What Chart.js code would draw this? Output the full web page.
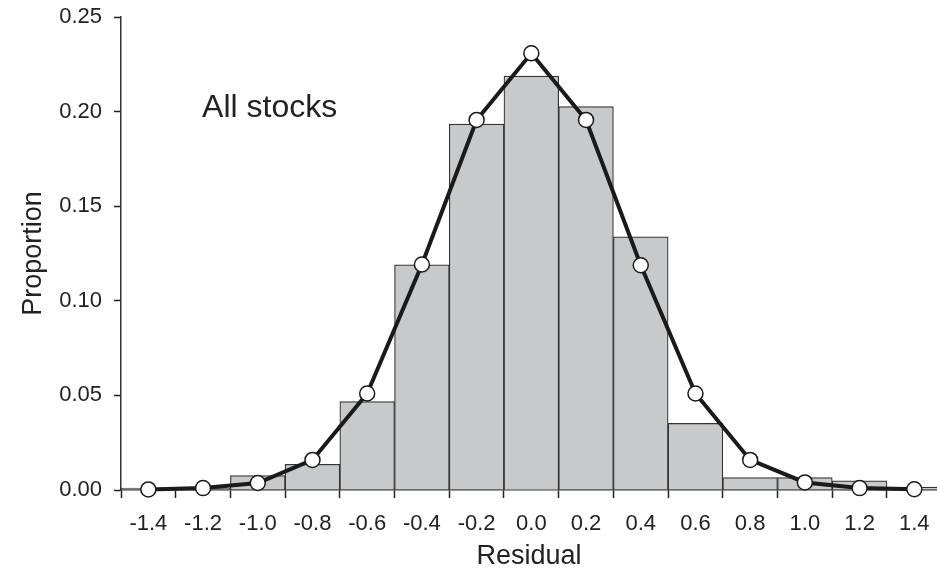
<!DOCTYPE html>
<html>
<head>
<meta charset="utf-8">
<script src="https://cdn.jsdelivr.net/npm/chart.js@4.4.1/dist/chart.umd.min.js"></script>
<style>
  html, body { margin: 0; padding: 0; background: #fff; overflow: hidden; }
  #wrap { width: 937px; height: 570px; }
</style>
</head>
<body>
<div id="wrap"><canvas id="chart"></canvas></div>
<script>
// bin centres of the residual histogram
const binCenters = [-1.4, -1.2, -1.0, -0.8, -0.6, -0.4, -0.2, 0.0, 0.2, 0.4, 0.6, 0.8, 1.0, 1.2, 1.4];
// observed proportion in each bin (bars)
const observed = [0.001, 0.001, 0.0076, 0.0136, 0.0467, 0.119, 0.1934, 0.2188, 0.2026, 0.1338, 0.0352, 0.0065, 0.0065, 0.0048, 0.0015];
// fitted proportion in each bin (line with open circles)
const fitted = [0.0003, 0.001, 0.0037, 0.0159, 0.051, 0.1192, 0.1956, 0.2308, 0.1956, 0.1188, 0.051, 0.0159, 0.0040, 0.001, 0.0004];
const xTicks = binCenters;
const yTicks = [0, 0.05, 0.10, 0.15, 0.20, 0.25];

const ink = '#222';
const font = 'Liberation Sans, Arial, Helvetica, sans-serif';

const panelLabel = {
  id: 'panelLabel',
  afterDraw(chart) {
    const {ctx, scales: {x, y}} = chart;
    ctx.save();
    ctx.font = '32px ' + font;
    ctx.fillStyle = ink;
    ctx.textBaseline = 'alphabetic';
    ctx.fillText('All stocks', x.getPixelForValue(-1.2035), y.getPixelForValue(0.197));
    ctx.restore();
  }
};

new Chart(document.getElementById('chart'), {
  type: 'bar',
  data: {
    datasets: [
      {
        type: 'line',
        label: 'Fitted',
        data: binCenters.map((v, i) => ({x: v, y: fitted[i]})),
        borderColor: '#1a1a1a',
        borderWidth: 4,
        pointRadius: 7.5,
        pointBorderWidth: 1.5,
        pointBackgroundColor: '#fff',
        pointBorderColor: '#1a1a1a',
        tension: 0,
        clip: false,
        order: 0
      },
      {
        type: 'bar',
        label: 'Observed',
        data: binCenters.map((v, i) => ({x: v, y: observed[i]})),
        backgroundColor: '#c8c9cb',
        borderColor: '#333',
        borderWidth: 1.2,
        barPercentage: 1.0,
        categoryPercentage: 1.0,
        order: 1
      }
    ]
  },
  options: {
    responsive: true,
    maintainAspectRatio: false,
    animation: false,
    layout: {
      autoPadding: false,
      padding: { top: 17, right: 0, bottom: 0, left: 0 }
    },
    scales: {
      x: {
        type: 'linear',
        min: -1.5,
        max: 1.483,
        offset: false,
        afterBuildTicks: (scale) => { scale.ticks = xTicks.map((v) => ({value: v})); },
        afterFit: (scale) => {
          scale.height = 80;
          scale.paddingLeft = 0;
          scale.paddingRight = 0;
        },
        grid: {
          offset: true,
          drawOnChartArea: false,
          drawTicks: true,
          tickLength: 8,
          tickWidth: 1.5,
          tickColor: ink
        },
        border: { display: true, color: '#333', width: 1.5 },
        ticks: {
          autoSkip: false,
          maxRotation: 0,
          padding: 13,
          color: ink,
          font: { family: font, size: 22 },
          callback: (v) => Number(v).toFixed(1)
        },
        title: {
          display: true,
          text: 'Residual',
          color: ink,
          font: { family: font, size: 27, lineHeight: 1.0 },
          padding: { top: 0, bottom: 0 }
        }
      },
      y: {
        min: 0,
        max: 0.25,
        afterBuildTicks: (scale) => { scale.ticks = yTicks.map((v) => ({value: v})); },
        afterFit: (scale) => {
          scale.width = 121;
          scale.paddingTop = 0;
          scale.paddingBottom = 0;
        },
        grid: {
          drawOnChartArea: false,
          drawTicks: true,
          tickLength: 7,
          tickWidth: 1.5,
          tickColor: ink
        },
        border: { display: true, color: '#333', width: 1.5 },
        ticks: {
          padding: 12,
          color: ink,
          font: { family: font, size: 22 },
          callback: (v) => Number(v).toFixed(2)
        },
        title: {
          display: true,
          text: 'Proportion',
          color: ink,
          font: { family: font, size: 27 },
          padding: { top: 17, bottom: 0 }
        }
      }
    },
    plugins: {
      legend: { display: false },
      tooltip: { enabled: false }
    }
  },
  plugins: [panelLabel]
});
</script>
</body>
</html>
